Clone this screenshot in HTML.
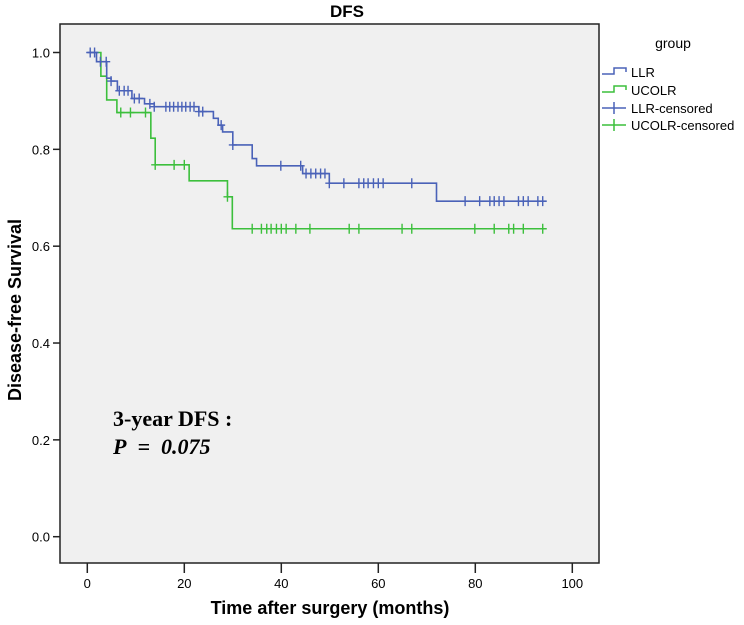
<!DOCTYPE html>
<html><head><meta charset="utf-8"><style>
html,body{margin:0;padding:0;background:#fff;}
svg{display:block;font-family:"Liberation Sans",Arial,sans-serif;}
</style></head><body>
<svg id="chart" width="744" height="625" viewBox="0 0 744 625">
<text x="347" y="17" text-anchor="middle" font-size="17" font-weight="bold">DFS</text>
<rect x="60" y="24" width="539" height="539" fill="#f0f0f0" stroke="#222" stroke-width="1.5"/>
<g id="axes"></g>
<g id="series"></g>
<text transform="translate(21,310) rotate(-90)" text-anchor="middle" font-size="18" font-weight="bold">Disease-free Survival</text>
<text x="330" y="614" text-anchor="middle" font-size="18" font-weight="bold">Time after surgery (months)</text>
<text x="113" y="426" font-family="'Liberation Serif',serif" font-size="22" font-weight="bold">3-year DFS&#160;:</text>
<text x="113" y="454" font-family="'Liberation Serif',serif" font-size="22" font-weight="bold" font-style="italic">P&#160;&#160;=&#160;&#160;0.075</text>
<g>
<text x="673" y="48" text-anchor="middle" font-size="14">group</text>
<g><path d="M602,74 h12 v-6 h12 v4" fill="none" stroke="#4a62b8" stroke-width="1.5"/><text x="631" y="77" font-size="13">LLR</text></g>
<g><path d="M602,92 h12 v-6 h12 v4" fill="none" stroke="#3cbf3c" stroke-width="1.5"/><text x="631" y="95" font-size="13">UCOLR</text></g>
<g><path d="M602,108 h24 M614,102 v12" fill="none" stroke="#4a62b8" stroke-width="1.5"/><text x="631" y="113" font-size="13">LLR-censored</text></g>
<g><path d="M602,125 h24 M614,119 v12" fill="none" stroke="#3cbf3c" stroke-width="1.5"/><text x="631" y="130" font-size="13">UCOLR-censored</text></g>
</g>
</svg>
<script>
const xTicks=[0,20,40,60,80,100];
const yTicks=[0.0,0.2,0.4,0.6,0.8,1.0];
const llrTimes=[0,1.9,4.0,4.9,6.2,9.2,11.8,13.8,23.0,26.0,27.0,27.9,30.0,34.0,34.9,44.4,49.9,72.0,94.7];
const llrSurv=[1.0,0.981,0.947,0.941,0.921,0.905,0.894,0.888,0.878,0.864,0.850,0.836,0.809,0.781,0.766,0.750,0.730,0.693,0.693];
const llrCensor=[0.6,1.5,2.7,3.9,4.9,6.6,7.6,8.4,9.7,10.7,12.9,13.8,16.2,17.0,17.8,18.7,19.5,20.3,21.2,22.0,23.0,23.8,27.6,30.0,39.9,44.0,45.1,46.1,47.1,48.1,49.0,49.9,52.9,56.0,57.0,57.9,59.0,60.0,61.0,66.9,77.9,80.9,83.0,83.9,84.9,85.9,88.9,89.9,90.9,92.9,93.9];
const ucoTimes=[1.8,2.8,4.0,6.1,13.1,14.0,21.0,28.9,29.9,94.7];
const ucoSurv=[1.0,0.951,0.902,0.876,0.823,0.768,0.735,0.702,0.636,0.636];
const ucoCensor=[6.9,8.9,12.0,14.0,17.9,20.0,28.9,34.0,35.9,37.0,37.9,39.0,40.0,41.0,43.0,45.9,54.0,56.0,64.9,66.9,79.9,83.9,86.9,87.9,89.9,93.9];
const NS='http://www.w3.org/2000/svg';
const X=t=>87.3+4.85*t;
const Y=s=>536.7-484.2*s;
const axes=document.getElementById('axes'),series=document.getElementById('series');
function mk(tag,attrs,parent){const e=document.createElementNS(NS,tag);for(const k in attrs)e.setAttribute(k,attrs[k]);parent.appendChild(e);return e;}
xTicks.forEach(v=>{
  const l=mk('line',{x1:X(v),x2:X(v),y1:563,y2:573,stroke:'#222','stroke-width':1.5},axes);
  
  
  const t=mk('text',{x:X(v),y:588,'text-anchor':'middle','font-size':13},axes);
  
  
  t.textContent=v;
});
yTicks.forEach(v=>{
  const l=mk('line',{x1:53,x2:60,y1:Y(v),y2:Y(v),stroke:'#222','stroke-width':1.5},axes);
  
  
  const t=mk('text',{x:50,y:Y(v)+5,'text-anchor':'end','font-size':13},axes);
  
  
  t.textContent=v.toFixed(1);
});
function survAt(times,surv,t){let s=surv[0];for(let i=0;i<times.length;i++){if(times[i]<=t)s=surv[i];}return s;}
function drawCurve(times,surv,censor,color,name){
  let d='M'+X(times[0])+','+Y(surv[0]);
  for(let i=1;i<times.length;i++){d+=' H'+X(times[i])+' V'+Y(surv[i]);}
  const p=mk('path',{d:d,fill:'none',stroke:color,'stroke-width':1.6},series);
  
  
  censor.forEach(t=>{
    const s=survAt(times,surv,t);
    const c=mk('path',{d:'M'+X(t)+','+(Y(s)-5)+' V'+(Y(s)+5)+' M'+(X(t)-4)+','+Y(s)+' H'+(X(t)+4),stroke:color,'stroke-width':1.4,fill:'none'},series);
    
    
  });
}
drawCurve(ucoTimes,ucoSurv,ucoCensor,'#3cbf3c','ucolr');
drawCurve(llrTimes,llrSurv,llrCensor,'#4a62b8','llr');
</script>
</body></html>
